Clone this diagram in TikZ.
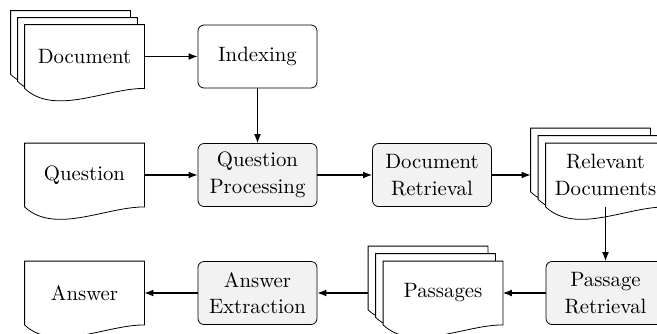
\documentclass[tikz,border=0pt]{standalone}
\usetikzlibrary{arrows.meta,backgrounds,calc}
\newcommand\docoutline[1]{\filldraw[fill=white] (#1.north west) -- (#1.north east) -- (#1.south east) .. controls ($(#1.south east)+(-39,0)$) and ($(#1.south west)+(30,28)$) .. (#1.south west) -- cycle;}
\begin{document}
\begin{tikzpicture}[x=0.5pt,y=-0.5pt,
  box/.style={minimum width=59.5pt,minimum height=31.5pt,inner sep=1pt,align=center,font=\fontsize{10.4}{13.3}\selectfont},
  plain/.style={box,draw,rounded corners=3pt,fill=white},
  proc/.style={plain,fill=black!5},
  page/.style={box},
  link/.style={-{Latex[length=4.5pt,width=3.4pt]},line width=0.55pt}]
\useasboundingbox (0,0) rectangle (657,333);
\clip (0,0) rectangle (657,333);
% top row
\node[page] (d1) at (70.5,42.5) {};
\node[page] (d2) at (77.5,49.5) {};
\node[page] (doc) at (84.5,56.5) {Document};
\node[plain] (idx) at (257.5,56.5) {Indexing};
% middle row
\node[page] (q) at (84.5,175) {Question};
\node[proc] (qp) at (257.5,175) {Question\\Processing};
\node[proc] (dr) at (432,175) {Document\\Retrieval};
\node[page] (rd1) at (590.5,160) {};
\node[page] (rd2) at (598,167.5) {};
\node[page] (rd) at (605.5,175) {Relevant\\Documents};
% bottom row
\node[proc] (pr) at (605.5,293) {Passage\\Retrieval};
\node[page] (pg1) at (428,278) {};
\node[page] (pg2) at (435.5,285.5) {};
\node[page] (pg) at (443,293) {Passages};
\node[proc] (ae) at (257.5,293) {Answer\\Extraction};
\node[page] (ans) at (84.5,293) {Answer};
\begin{scope}[on background layer]
\docoutline{d1}\docoutline{d2}\docoutline{doc}
\docoutline{q}
\docoutline{rd1}\docoutline{rd2}\docoutline{rd}
\docoutline{pg1}\docoutline{pg2}\docoutline{pg}
\docoutline{ans}
\end{scope}
\draw[link] (doc.east) -- (idx.west);
\draw[link] (idx.south) -- (qp.north);
\draw[link] (q.east) -- (qp.west);
\draw[link] (qp.east) -- (dr.west);
\draw[link] (dr.east) -- (dr.east -| rd1.west);
\draw[link] (rd.south) -- (pr.north);
\draw[link] (pr.west) -- (pg.east);
\draw[link] (pg.west -| pg1.west) -- (ae.east);
\draw[link] (ae.west) -- (ans.east);
\end{tikzpicture}
\end{document}
